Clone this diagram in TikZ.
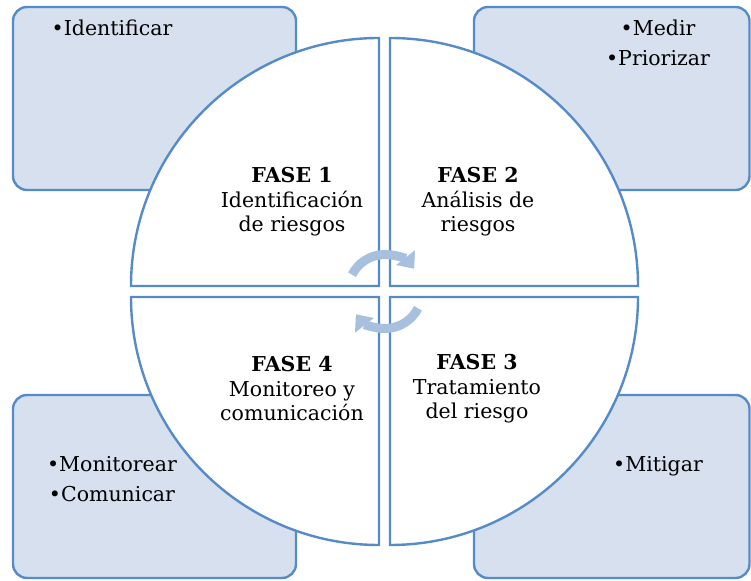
\documentclass[tikz,border=0pt]{standalone}
\usepackage{fontspec}
\setmainfont{DejaVu Serif}
\usetikzlibrary{arrows.meta}
\definecolor{rim}{RGB}{86,139,202}
\definecolor{boxfill}{RGB}{214,224,238}
\definecolor{cyc}{RGB}{167,192,222}
\begin{document}
\begin{tikzpicture}[x=1pt, y=1pt,
    box/.style={draw=rim, line width=2.4pt, fill=boxfill, rounded corners=14pt},
    part/.style={draw=rim, line width=2.4pt, fill=white},
    turn/.style={cyc, line width=9pt, -{Triangle[length=14pt, width=23pt]}},
    fase/.style={align=center, font=\fontsize{20.5}{24.5}\selectfont},
    item/.style={align=center, anchor=base, font=\fontsize{20.5}{30}\selectfont}]
  \useasboundingbox (0,0) rectangle (751,580);

  % corner boxes
  \draw[box] (13,390) rectangle (296,573);
  \draw[box] (474,390) rectangle (749.5,573);
  \draw[box] (13,2) rectangle (296,185);
  \draw[box] (474,2) rectangle (749.5,185);

  % the four quarters
  \draw[part] (379,294) -- ++(-248,0) arc[start angle=180, end angle=90, radius=248] -- cycle;
  \draw[part] (390,294) -- ++(0,248) arc[start angle=90, end angle=0, radius=248] -- cycle;
  \draw[part] (390,283) -- ++(248,0) arc[start angle=0, end angle=-90, radius=248] -- cycle;
  \draw[part] (379,283) -- ++(0,-248) arc[start angle=-90, end angle=-180, radius=248] -- cycle;

  % cycle arrows
  \coordinate (hub) at (385,288.5);
  \draw[turn] (hub) ++(153:37) arc[start angle=153, end angle=38, radius=37];
  \draw[turn] (hub) ++(-27:37) arc[start angle=-27, end angle=-142, radius=37];

  \node[fase] (f1) at (292,378) {\textbf{FASE 1}\\Identificación\\de riesgos};
  \node[fase] (f2) at (478,378) {\textbf{FASE 2}\\Análisis de\\riesgos};
  \node[fase] (f3) at (477,191) {\textbf{FASE 3}\\Tratamiento\\del riesgo};
  \node[fase] (f4) at (292,191) {\textbf{FASE 4}\\Monitoreo y\\comunicación};

  % anchor base sits on the last line
  \node[item] (i1) at (112,544) {•Identificar};
  \node[item] (i2) at (658,514) {•Medir\\•Priorizar};
  \node[item] (i4) at (112,78) {•Monitorear\\•Comunicar};
  \node[item] (i3) at (658,108) {•Mitigar};
\end{tikzpicture}
\end{document}
